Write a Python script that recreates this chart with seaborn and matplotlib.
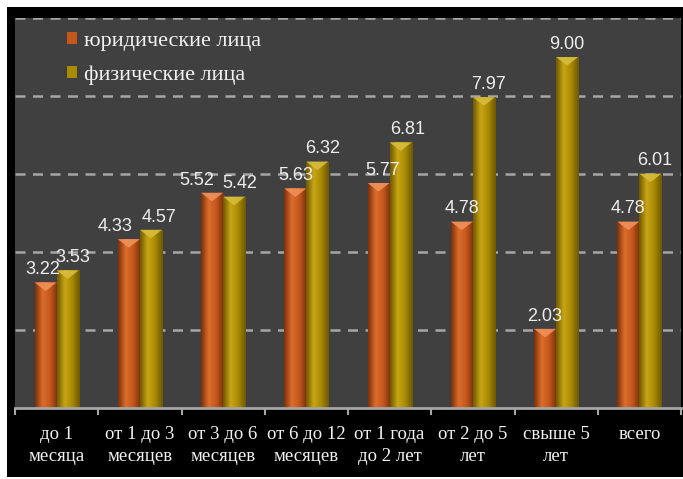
import numpy as np
import pandas as pd
import matplotlib
matplotlib.use('Agg')
import matplotlib.pyplot as plt
from matplotlib.patches import Rectangle, Polygon
from matplotlib.colors import LinearSegmentedColormap
import seaborn as sns

# data
categories = ['до 1\nмесяца', 'от 1 до 3\nмесяцев', 'от 3 до 6\nмесяцев',
              'от 6 до 12\nмесяцев', 'от 1 года\nдо 2 лет', 'от 2 до 5\nлет',
              'свыше 5\nлет', 'всего']
series_names = ['юридические лица', 'физические лица']
legal = [3.22, 4.33, 5.52, 5.63, 5.77, 4.78, 2.03, 4.78]
physical = [3.53, 4.57, 5.42, 6.32, 6.81, 7.97, 9.00, 6.01]

df = pd.DataFrame({
    'cat': categories * 2,
    'val': legal + physical,
    'group': [series_names[0]] * len(categories) + [series_names[1]] * len(categories),
})

colors = ['#c4581c', '#a88a04']
edge_dark = ['#7a300c', '#6e5800']
center_light = ['#dc6e2c', '#c8a614']
top_light = ['#f0915a', '#d8bc3c']

fig = plt.figure(figsize=(6.83, 4.79), dpi=100)
fig.patch.set_facecolor('white')
# black frame behind the chart
fig.patches.append(Rectangle((7 / 683, 1 - 477 / 479), 1 - 7 / 683, (477 - 7) / 479,
                             transform=fig.transFigure, facecolor='black',
                             edgecolor='none', zorder=-5))

ax = fig.add_axes([15 / 683, 1 - 408 / 479, 666 / 683, 390 / 479])
ax.set_zorder(2)
ax.set_facecolor('#404040')

sns.barplot(data=df, x='cat', y='val', hue='group', palette=colors,
            width=0.53, gap=0, ax=ax, edgecolor='none', saturation=1,
            legend=True)

ax.set_ylim(0, 10)
ax.set_xlim(-0.5, len(categories) - 0.5)
ax.set_yticks([2, 4, 6, 8, 10])
ax.set_yticklabels([])
ax.tick_params(axis='y', length=0)
ax.grid(axis='y', color='#a6a6a6', linestyle=(0, (4, 3)), linewidth=1.8)
ax.set_axisbelow(True)
ax.set_xlabel('')
ax.set_ylabel('')
for s in ['top', 'right', 'left']:
    ax.spines[s].set_visible(False)
ax.spines['bottom'].set_color('#a6a6a6')
ax.spines['bottom'].set_linewidth(2)

# tick marks between categories, labels at centers
ax.set_xticks(np.arange(len(categories)))
ax.set_xticklabels(categories, family='Liberation Serif', fontsize=13.5,
                   color='#f2f2f2', linespacing=1.4)
ax.tick_params(axis='x', which='major', length=0, pad=13)
ax.set_xticks(np.arange(-0.5, len(categories)), minor=True)
ax.tick_params(axis='x', which='minor', length=5, width=1.5, color='#a6a6a6')

# label nudges (points), as the labels sit in the picture
label_dx = [[-2, -10, -11, 0, 3, 0, 0, 0],
            [4, 6, 4, 4, 5, 3, 0, 3]]

# shaded look for the bars
for ci, cont in enumerate(ax.containers):
    cmap = LinearSegmentedColormap.from_list(
        'g%d' % ci, [edge_dark[ci], center_light[ci], colors[ci], edge_dark[ci]])
    grad = np.linspace(0, 1, 64).reshape(1, -1)
    for p in cont.patches:
        x0, w, h = p.get_x(), p.get_width(), p.get_height()
        im = ax.imshow(grad, extent=(x0, x0 + w, 0, h), aspect='auto',
                       cmap=cmap, zorder=p.get_zorder(), interpolation='bicubic')
        im.set_clip_path(p)
        tri = Polygon([(x0, h), (x0 + w, h), (x0 + w / 2, h - 0.22)],
                      closed=True, facecolor=top_light[ci], edgecolor='none',
                      zorder=p.get_zorder() + 0.1, alpha=0.9)
        ax.add_patch(tri)
    anns = ax.bar_label(cont, fmt='%.2f', padding=3, color='#eeeeee', fontsize=13,
                        family='Liberation Sans', zorder=5)
    for k, a in enumerate(anns):
        a.xyann = (label_dx[ci][k], a.xyann[1])

ax.set_xlim(-0.5, len(categories) - 0.5)
ax.set_ylim(0, 10)

leg = ax.legend(loc='upper left', bbox_to_anchor=(0.078, 0.965), frameon=False,
                prop={'family': 'Liberation Serif', 'size': 16},
                handlelength=0.45, handleheight=0.45, handletextpad=0.3,
                labelspacing=0.65, borderpad=0, borderaxespad=0)
for t in leg.get_texts():
    t.set_color('#f2f2f2')

fig.savefig('out.png', dpi=100, facecolor='white')
